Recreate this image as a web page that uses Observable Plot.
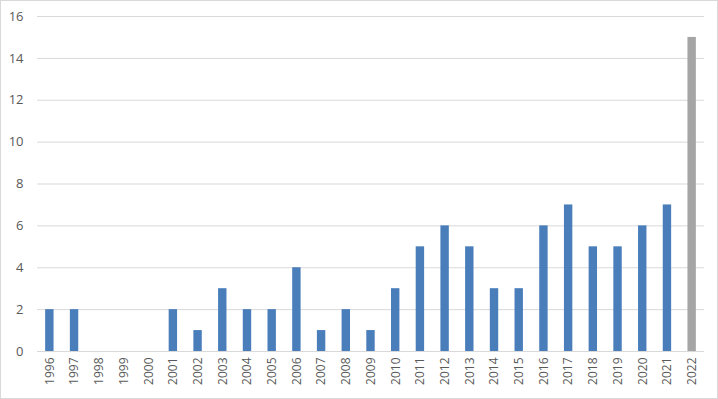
<!DOCTYPE html>
<html><head><meta charset="utf-8">
<script src="https://cdn.jsdelivr.net/npm/d3@7"></script>
<script src="https://cdn.jsdelivr.net/npm/@observablehq/plot@0.6"></script>
<style>
html,body{margin:0;padding:0;background:#fff;}
svg{outline:1px solid #d9d9d9;outline-offset:-1px;}
</style>
</head><body>
<div id="chart"></div>
<script>
const years = ["1996","1997","1998","1999","2000","2001","2002","2003","2004","2005","2006","2007","2008","2009","2010","2011","2012","2013","2014","2015","2016","2017","2018","2019","2020","2021","2022"];
const counts = [2,2,0,0,0,2,1,3,2,2,4,1,2,1,3,5,6,5,3,3,6,7,5,5,6,7,15];
const highlightYear = "2022";
const yTicks = [0,2,4,6,8,10,12,14,16];

const data = years.map((y,i)=>({year:y, value:counts[i]}));

const chart = Plot.plot({
  width: 718, height: 399,
  marginLeft: 37, marginRight: 14, marginTop: 16, marginBottom: 48,
  style: {fontFamily: "'Open Sans', 'Liberation Sans', sans-serif", fontSize: "12px", color: "#595959", background: "#fff"},
  x: {domain: years, paddingInner: 0.66, paddingOuter: 0.33, round: false, label: null},
  y: {domain: [0,16], ticks: yTicks, label: null},
  marks: [
    Plot.gridY(yTicks, {stroke: "#d9d9d9", strokeOpacity: 1}),
    Plot.axisY(yTicks, {tickSize: 0, tickPadding: 14, fontSize: 13, fill: "#595959", label: null}),
    Plot.axisX({tickSize: 0, tickRotate: -90, tickPadding: 6, fontSize: 12, fill: "#595959", label: null}),
    Plot.barY(data, {x: "year", y: "value", fill: d => d.year === highlightYear ? "#a5a5a5" : "#4a7ebb"})
  ]
});
document.getElementById("chart").append(chart);
</script>
</body></html>
